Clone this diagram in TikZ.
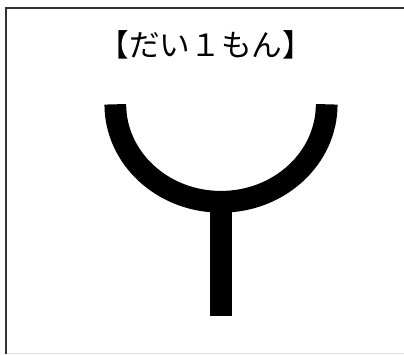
\documentclass[tikz,border=0pt]{standalone}
\usepackage{fontspec}
\newfontfamily\jpfont{Noto Sans CJK JP}
\begin{document}
\begin{tikzpicture}[x=0.75pt,y=-0.75pt,
  frameline/.style={line width=1.5pt,draw=black!80},
  thickstroke/.style={line width=16.3pt,line cap=butt,draw=black}]
\useasboundingbox (0,0) rectangle (404,354);
\fill[white] (0,0) rectangle (404,354);
% frame (left and top dark, bottom faint)
\draw[frameline] (6,354) -- (6,8.3) -- (404,8.3);
\draw[line width=1pt,draw=black!12] (7,353.3) -- (404,353.3);
% title
\node[font=\jpfont\fontsize{23}{26}\selectfont,inner sep=0pt] (title) at (206,45) {【だい１もん】};
% U-shaped arc
\draw[thickstroke] (115.3,104.3) arc[start angle=180,end angle=0,x radius=105.7,y radius=97.5];
% stem
\coordinate (stemtop) at (221,198);
\coordinate (stembot) at (221,316);
\draw[line width=16.9pt,line cap=butt] (stemtop) -- (stembot);
\end{tikzpicture}
\end{document}
